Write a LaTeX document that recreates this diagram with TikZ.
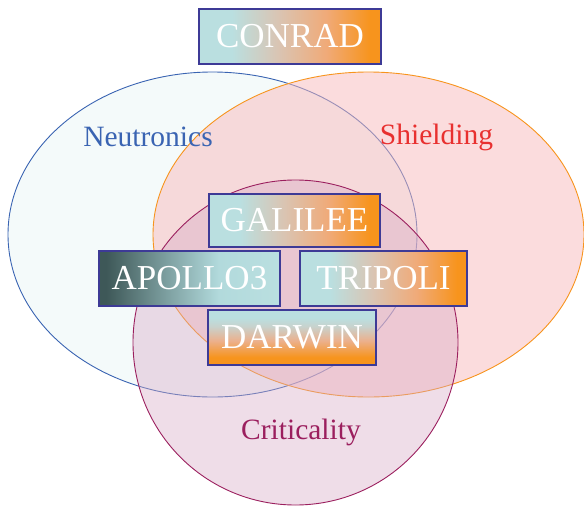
\documentclass[tikz,border=0pt]{standalone}
\usepackage{fontspec}
\setmainfont{Liberation Serif}

% palette
\definecolor{boxcyan}{HTML}{BADFE0}
\definecolor{boxorange}{HTML}{F7941D}
\definecolor{boxslate}{HTML}{3E5858}
\definecolor{boxedge}{HTML}{3D3A96}
\definecolor{neutblue}{HTML}{3A64B2}
\definecolor{shieldred}{HTML}{E8302F}
\definecolor{critmag}{HTML}{9B1F5E}
\definecolor{neutfill}{HTML}{E4F2F3}
\definecolor{shieldfill}{RGB}{248,185,187}
\definecolor{critfill}{RGB}{215,170,197}

% left-to-right cyan -> orange
\pgfdeclarehorizontalshading{cyanorange}{100bp}{%
  color(0bp)=(boxcyan); color(25bp)=(boxcyan); color(34bp)=(boxcyan);
  color(47bp)=(rgb,255:red,218;green,196;blue,178);
  color(60bp)=(rgb,255:red,240;green,170;blue,120);
  color(72bp)=(boxorange); color(100bp)=(boxorange)}
% left-to-right slate -> cyan
\pgfdeclarehorizontalshading{slatecyan}{100bp}{%
  color(0bp)=(boxslate); color(25bp)=(boxslate); color(27bp)=(boxslate);
  color(45bp)=(rgb,255:red,130;green,165;blue,166);
  color(58bp)=(rgb,255:red,178;green,218;blue,220);
  color(75bp)=(boxcyan); color(100bp)=(boxcyan)}
% top-to-bottom cyan -> orange
\pgfdeclareverticalshading{cyanorangev}{100bp}{%
  color(0bp)=(boxorange); color(25bp)=(boxorange); color(32bp)=(boxorange);
  color(47bp)=(rgb,255:red,236;green,176;blue,140);
  color(60bp)=(rgb,255:red,200;green,210;blue,205);
  color(68bp)=(boxcyan); color(100bp)=(boxcyan)}

\tikzset{
  toolbox/.style={draw=boxedge, line width=1.2pt, rectangle, inner sep=0pt,
    text=white, font=\fontsize{35}{40}\selectfont},
  setlabel/.style={anchor=base, inner sep=0pt, font=\fontsize{29.5}{34}\selectfont},
  setline/.style={line width=0.9pt}
}

\begin{document}
\begin{tikzpicture}[x=1pt, y=-1pt]
  \useasboundingbox (0,0) rectangle (584,506);

  % the three sets
  \filldraw[setline, draw=neutblue, fill=neutfill, fill opacity=0.4]
    (212.5,234.5) ellipse [x radius=204.5pt, y radius=162.5pt];
  \filldraw[setline, draw=boxorange, fill=shieldfill, fill opacity=0.5]
    (368.5,234.5) ellipse [x radius=215.5pt, y radius=162.5pt];
  \filldraw[setline, draw=critmag, fill=critfill, fill opacity=0.4]
    (295.5,342.5) circle [radius=162.5pt];

  % set names
  \node[setlabel, text=neutblue] (neut) at (148,146) {Neutronics};
  \node[setlabel, text=shieldred] (shield) at (436.5,144) {Shielding};
  \node[setlabel, text=critmag] (crit) at (301,439) {Criticality};

  % codes
  \node[toolbox, shading=cyanorange, minimum width=182pt, minimum height=55pt]
    (conrad) at (290,36.5) {CONRAD};
  \node[toolbox, shading=cyanorange, minimum width=171pt, minimum height=53pt]
    (galilee) at (294.5,220.5) {GALILEE};
  \node[toolbox, shading=slatecyan, minimum width=181pt, minimum height=55pt]
    (apollo) at (189.5,278.5) {APOLLO3};
  \node[toolbox, shading=cyanorange, minimum width=167pt, minimum height=55pt]
    (tripoli) at (383.5,278.5) {TRIPOLI};
  \node[toolbox, shading=cyanorangev, minimum width=168pt, minimum height=55pt]
    (darwin) at (292,337.5) {DARWIN};
\end{tikzpicture}
\end{document}
